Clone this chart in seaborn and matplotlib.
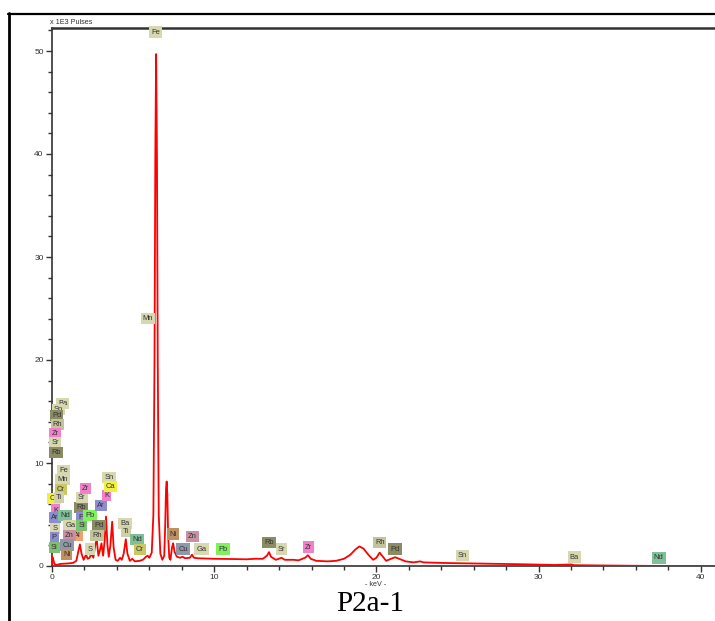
import matplotlib
matplotlib.use("Agg")
import matplotlib.pyplot as plt
from matplotlib.lines import Line2D
from matplotlib.ticker import MultipleLocator
import seaborn as sns
import pandas as pd

# ---- spectrum (keV, x1E3 pulses) ----
energy = [0.00, 0.02, 0.08, 0.15, 0.3, 0.5, 1.0, 1.3, 1.5, 1.62, 1.72, 1.82, 1.95, 2.1, 2.2,
          2.32, 2.42, 2.55, 2.68, 2.76, 2.86, 2.95, 3.05, 3.15, 3.25, 3.33, 3.42, 3.5, 3.6,
          3.71, 3.8, 3.92, 4.05, 4.2, 4.3, 4.42, 4.55, 4.65, 4.8, 4.95, 5.1, 5.4, 5.6, 5.8,
          5.9, 6.0, 6.15, 6.25, 6.32, 6.37, 6.42, 6.47, 6.52, 6.58, 6.68, 6.8, 6.92, 6.98,
          7.03, 7.07, 7.11, 7.16, 7.23, 7.3, 7.4, 7.47, 7.55, 7.7, 7.9, 8.05, 8.2, 8.5, 8.63,
          8.75, 9.0, 10.0, 11.0, 12.0, 12.5, 13.0, 13.25, 13.38, 13.5, 13.8, 14.15, 14.35,
          14.9, 15.2, 15.6, 15.78, 15.95, 16.3, 17.0, 17.5, 18.0, 18.4, 18.7, 18.95, 19.2,
          19.5, 19.8, 20.0, 20.2, 20.4, 20.6, 20.9, 21.15, 21.4, 21.8, 22.3, 22.7, 22.9, 24.0,
          25.0, 27.0, 29.0, 31.0, 32.0, 32.2, 34.0, 36.0, 38.0, 41.0]
counts = [0.0, 0.9, 0.6, 0.2, 0.1, 0.2, 0.25, 0.3, 0.5, 1.4, 2.1, 1.2, 0.6, 1.1, 0.7,
          0.8, 1.2, 0.8, 2.2, 2.5, 1.0, 1.5, 2.2, 1.0, 2.5, 4.8, 2.0, 0.9, 2.0,
          4.3, 1.8, 0.6, 0.5, 0.8, 0.6, 1.2, 2.6, 1.2, 0.5, 0.7, 0.45, 0.5, 0.6, 0.9,
          1.0, 0.8, 1.3, 5.0, 20.0, 40.0, 49.7, 40.0, 20.0, 5.0, 1.2, 0.6, 1.0, 4.0,
          7.5, 8.2, 7.0, 3.0, 0.8, 0.6, 1.8, 2.2, 1.4, 0.9, 0.8, 0.9, 0.75, 0.8, 1.1,
          0.8, 0.75, 0.7, 0.68, 0.65, 0.7, 0.7, 1.0, 1.35, 0.9, 0.6, 0.8, 0.6,
          0.6, 0.55, 0.8, 1.05, 0.7, 0.5, 0.45, 0.5, 0.7, 1.1, 1.6, 1.9, 1.7,
          1.1, 0.6, 0.8, 1.3, 0.9, 0.5, 0.7, 0.85, 0.7, 0.45, 0.35, 0.45, 0.35, 0.3,
          0.27, 0.22, 0.17, 0.1, 0.15, 0.08, 0.05, 0.02, 0.0, 0.0]

# ---- element markers ----
label_names = ["Fe", "Mn", "Ba", "Sn", "Pd", "Rh", "Zr", "Sr", "Rb", "Fe", "Mn", "Cr", "Ca", "Ti",
               "K", "Ar", "Nd", "S", "Ga", "P", "Al", "Zn", "Si", "Cu", "Ni", "Rb", "Sr", "Zr",
               "P", "Si", "Pb", "Pd", "Rh", "S", "Ar", "K", "Sn", "Ca", "Ba", "Ti", "Nd", "Cr",
               "Ni", "Zn", "Cu", "Ga", "Pb", "Rb", "Sr", "Zr", "Rh", "Pd", "Sn", "Ba", "Nd"]
label_x = [6.40, 5.91, 0.66, 0.39, 0.29, 0.33, 0.18, 0.18, 0.25, 0.70, 0.63, 0.54, 0.12, 0.45,
           0.23, 0.17, 0.80, 0.18, 1.15, 0.14, 1.56, 1.05, 0.14, 0.94, 0.91, 1.79, 1.83, 2.08,
           1.77, 1.83, 2.34, 2.89, 2.79, 2.34, 3.00, 3.37, 3.51, 3.61, 4.50, 4.56, 5.25, 5.42,
           7.47, 8.64, 8.08, 9.22, 10.55, 13.38, 14.14, 15.81, 20.20, 21.16, 25.29, 32.20, 37.40]
label_y = [51.84, 24.03, 15.77, 15.21, 14.63, 13.76, 12.86, 11.95, 11.02, 9.30, 8.43, 7.46, 6.59, 6.62,
           5.43, 4.68, 4.94, 3.65, 3.97, 2.74, 3.00, 3.00, 1.77, 2.03, 1.13, 5.65, 6.66, 7.53,
           4.68, 3.97, 4.94, 3.97, 3.00, 1.65, 5.91, 6.81, 8.59, 7.68, 4.14, 3.32, 2.59, 1.62,
           3.10, 2.84, 1.65, 1.65, 1.65, 2.30, 1.65, 1.84, 2.26, 1.65, 1.04, 0.87, 0.78]
element_colors = {
    "Fe": "#d8d8b0", "Mn": "#d8d8b0", "Ba": "#d8d8b0", "Sn": "#d8d8b0", "Sr": "#d8d8b0",
    "S": "#d8d8b0", "Ga": "#d8d8b0", "Ti": "#d0d0a8", "Rh": "#c4c49c", "Pd": "#8c8c64",
    "Rb": "#8c8c64", "Zr": "#f080c8", "K": "#f080c8", "Ar": "#8c8cd0", "P": "#8c8cd0",
    "Nd": "#80c098", "Si": "#7cc070", "Pb": "#80f060", "Ca": "#f0f040", "Cr": "#c8c864",
    "Zn": "#c890a0", "Al": "#f0a070", "Cu": "#9098a8", "Ni": "#c09060",
}

sns.set_theme(style="white")
plt.rcParams["font.family"] = ["Liberation Sans", "DejaVu Sans"]

W, H = 715, 621
fig = plt.figure(figsize=(W / 100, H / 100), dpi=100)
ax = fig.add_axes([52 / W, 1 - 566 / H, 1 - 52 / W, (566 - 28) / H])

df = pd.DataFrame({"energy": energy, "counts": counts})
sns.lineplot(data=df, x="energy", y="counts", color="#ff0000", lw=1.3, ax=ax, zorder=3,
             estimator=None, sort=False)

ax.set_xlim(0, 663 / 16.22)
ax.set_ylim(0, 538 / 10.3)
ax.set_xlabel("")
ax.set_ylabel("")
ax.xaxis.set_major_locator(MultipleLocator(10))
ax.xaxis.set_minor_locator(MultipleLocator(2))
ax.yaxis.set_major_locator(MultipleLocator(10))
ax.yaxis.set_minor_locator(MultipleLocator(2))
ax.tick_params(which="both", direction="out", colors="#333333", labelsize=6,
               bottom=True, left=True, top=False, right=False)
ax.tick_params(which="major", length=4, width=1, pad=2)
ax.tick_params(which="minor", length=3, width=1)
for side in ["left", "bottom", "top"]:
    ax.spines[side].set_color("#333333")
    ax.spines[side].set_linewidth(1.2)
ax.spines["top"].set_linewidth(1.8)
ax.spines["right"].set_visible(False)

for i, (name, x, y) in enumerate(zip(label_names, label_x, label_y)):
    ax.text(x, y, name, ha="center", va="center", fontsize=5.4, color="#303030", zorder=4 + i * 0.01,
            bbox=dict(boxstyle="square,pad=0.28", fc=element_colors[name], ec="none"))

fig.text(50 / W, 1 - 23 / H, "x 1E3 Pulses", fontsize=5.2, color="#333333", ha="left", va="center")
fig.text(376 / W, 1 - 585 / H, "- keV -", fontsize=5.2, color="#333333", ha="center", va="center")
fig.text(370 / W, 1 - 604 / H, "P2a-1", fontsize=21, ha="center", va="center",
         family=["Liberation Serif", "DejaVu Serif"], color="black")

# outer frame
fig.add_artist(Line2D([9 / W, 9 / W], [0, 1 - 13 / H], color="black", lw=2, transform=fig.transFigure))
fig.add_artist(Line2D([8 / W, 1], [1 - 14 / H, 1 - 14 / H], color="black", lw=1.6, transform=fig.transFigure))

fig.savefig("out.png", dpi=100)
